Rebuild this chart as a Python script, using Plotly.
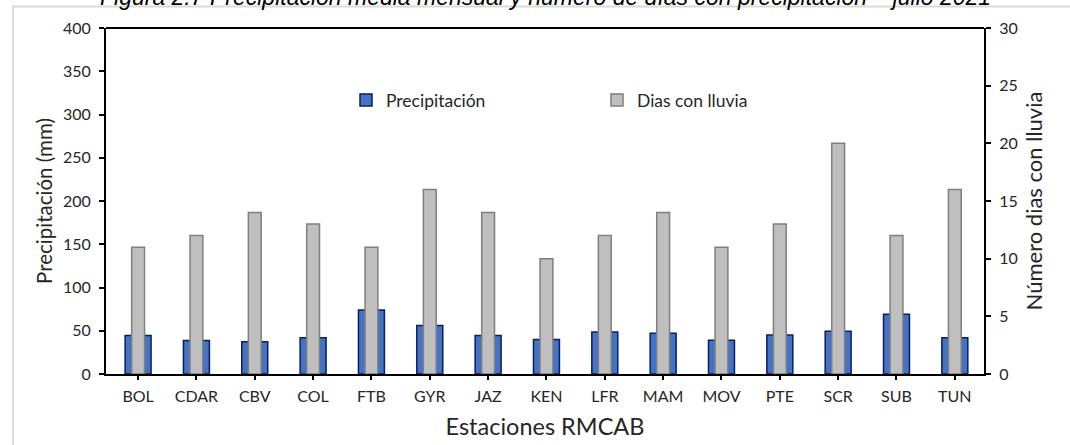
import plotly.graph_objects as go

estaciones = ["BOL", "CDAR", "CBV", "COL", "FTB", "GYR", "JAZ", "KEN", "LFR", "MAM",
              "MOV", "PTE", "SCR", "SUB", "TUN"]
precipitacion = [44.5, 38.8, 37.3, 41.9, 74.0, 56.0, 44.5, 39.8, 48.5, 47.2,
                 39.0, 45.0, 49.5, 69.0, 42.0]
dias_lluvia = [11, 12, 14, 13, 11, 16, 14, 10, 12, 14, 11, 13, 20, 12, 16]

titulo = "Figura 2.7 Precipitación media mensual y número de días con precipitación – julio 2021"

W, H = 1070, 445
L, R, T, B = 106, 86, 28, 71
pw, ph = W - L - R, H - T - B

def px_x(p):
    return (p - L) / pw

def px_y(p):
    return 1 - (p - T) / ph

FONT = "Lato"
TXT = "#262626"

fig = go.Figure()
fig.add_trace(go.Bar(
    x=estaciones, y=precipitacion, name="Precipitación",
    width=0.445, marker=dict(color="#4472C4", line=dict(color="#0B1F5C", width=1.5)),
    yaxis="y",
))
fig.add_trace(go.Bar(
    x=estaciones, y=dias_lluvia, name="Dias con lluvia",
    width=0.22, marker=dict(color="#BFBFBF", line=dict(color="#7F7F7F", width=1.5)),
    yaxis="y2",
))

fig.update_layout(
    width=W, height=H,
    margin=dict(l=L, r=R, t=T, b=B, pad=0),
    paper_bgcolor="white", plot_bgcolor="white",
    barmode="overlay",
    font=dict(family=FONT, size=16, color=TXT),
    showlegend=True,
    legend=dict(
        orientation="h", x=px_x(346), xanchor="left", y=px_y(100), yanchor="middle",
        bgcolor="rgba(0,0,0,0)", font=dict(size=17.5, color=TXT),
        entrywidth=206, entrywidthmode="pixels", traceorder="normal",
        itemwidth=30,
    ),
    xaxis=dict(
        automargin=False,
        showline=True, linecolor="black", linewidth=2, mirror=False,
        ticks="outside", ticklen=4, tickcolor="black", tickwidth=1.5,
        showgrid=False, tickfont=dict(size=16, color=TXT), ticklabelstandoff=3,
        title=dict(text="Estaciones RMCAB", font=dict(size=23.5, color=TXT), standoff=14),
        range=[-0.55, 14.5],
    ),
    yaxis=dict(
        automargin=False,
        range=[0, 400], dtick=50, showline=True, linecolor="black", linewidth=2,
        ticks="outside", ticklen=5, tickcolor="black", tickwidth=1.5,
        showgrid=False, zeroline=False, tickfont=dict(size=16, color=TXT),
        ticklabelstandoff=5,
        title=dict(text="Precipitación (mm)", font=dict(size=20.5, color=TXT), standoff=5),
    ),
    yaxis2=dict(
        automargin=False,
        range=[0, 30], dtick=5, overlaying="y", side="right",
        showline=True, linecolor="black", linewidth=2,
        ticks="outside", ticklen=5, tickcolor="black", tickwidth=1.5,
        showgrid=False, zeroline=False, tickfont=dict(size=16, color=TXT),
        ticklabelstandoff=5,
        title=dict(text="Número dias con lluvia", font=dict(size=22, color=TXT), standoff=10),
    ),
)

# top border of plot area
fig.add_shape(type="line", xref="paper", yref="paper", x0=0, x1=1, y0=1, y1=1,
              line=dict(color="black", width=2))

# outer light-gray frame
fig.add_shape(type="rect", xref="paper", yref="paper",
              x0=px_x(13), x1=px_x(1085), y0=px_y(460), y1=px_y(6.5),
              line=dict(color="#D9D9D9", width=2), layer="below")

fig.add_annotation(
    text=titulo, xref="paper", yref="paper", x=px_x(545), y=px_y(-3),
    xanchor="center", yanchor="middle", showarrow=False,
    font=dict(family="Liberation Sans", size=23, color="black", style="italic"),
)

fig.write_html("out.html", config={"displayModeBar": False},
               post_script="document.body.style.margin='0px';")
